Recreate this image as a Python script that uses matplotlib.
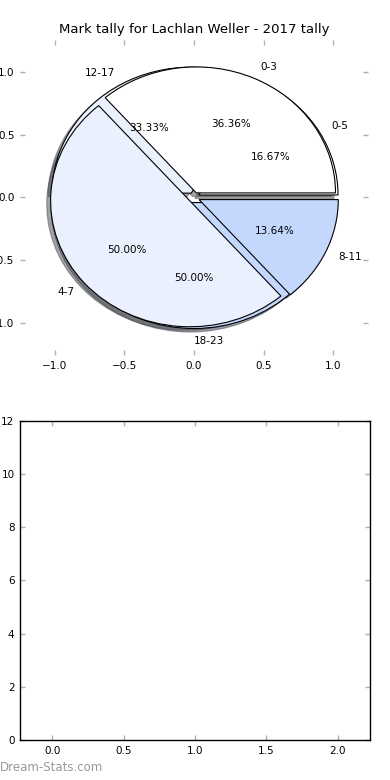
import matplotlib
matplotlib.use('Agg')
import matplotlib.pyplot as plt

# tally data (two pies drawn on the same axes)
hours_a = ['0-5', '12-17', '18-23']
counts_a = [1, 2, 3]
quarters_b = ['0-3', '4-7', '8-11']
counts_b = [8, 11, 3]
colours = ['#ffffff', '#eaf0fd', '#c4d8fd']

yticks_bottom = [0, 2, 4, 6, 8, 10, 12]
xticks_bottom = [0.0, 0.5, 1.0, 1.5, 2.0]

plt.rcParams['font.size'] = 7.5

fig = plt.figure(figsize=(3.9, 7.8), dpi=100)
ax1 = fig.add_axes([0.0513, 0.5449, 0.8923, 0.4038])
ax2 = fig.add_axes([0.0513, 0.0513, 0.8974, 0.4090])

wp = {'edgecolor': 'black', 'linewidth': 0.8}
ax1.pie(counts_a, labels=hours_a, colors=colours, autopct='%.2f%%',
        explode=[0.04] * 3, shadow=True, wedgeprops=wp)
p2 = ax1.pie(counts_b, labels=quarters_b, colors=colours, autopct='%.2f%%',
             explode=[0.04] * 3, shadow=True, wedgeprops=wp)

ax1.set_aspect('auto')
ax1.set_xlim(-1.25, 1.25)
ax1.set_ylim(-1.25, 1.25)
ax1.set_xticks([-1.0, -0.5, 0.0, 0.5, 1.0])
ax1.set_yticks([-1.0, -0.5, 0.0, 0.5, 1.0])
ax1.set_title('Mark tally for Lachlan Weller - 2017 tally', fontsize=9.5, pad=5)

for t in ax1.texts:
    if t.get_text() == '18-23':
        t.set_ha('left')

for ax in (ax1, ax2):
    ax.tick_params(direction='in', length=3.5, width=1, color='#b0b0b0',
                   top=True, right=True, labelsize=7.5, pad=4)

ax2.set_xlim(-0.225, 2.225)
ax2.set_ylim(0, 12)
ax2.set_xticks(xticks_bottom)
ax2.set_yticks(yticks_bottom)
for s in ax2.spines.values():
    s.set_linewidth(1)

fig.text(0.0, 0.012, 'Dream-Stats.com', color='#999999', fontsize=8.5)

fig.savefig('out.png', dpi=100)
